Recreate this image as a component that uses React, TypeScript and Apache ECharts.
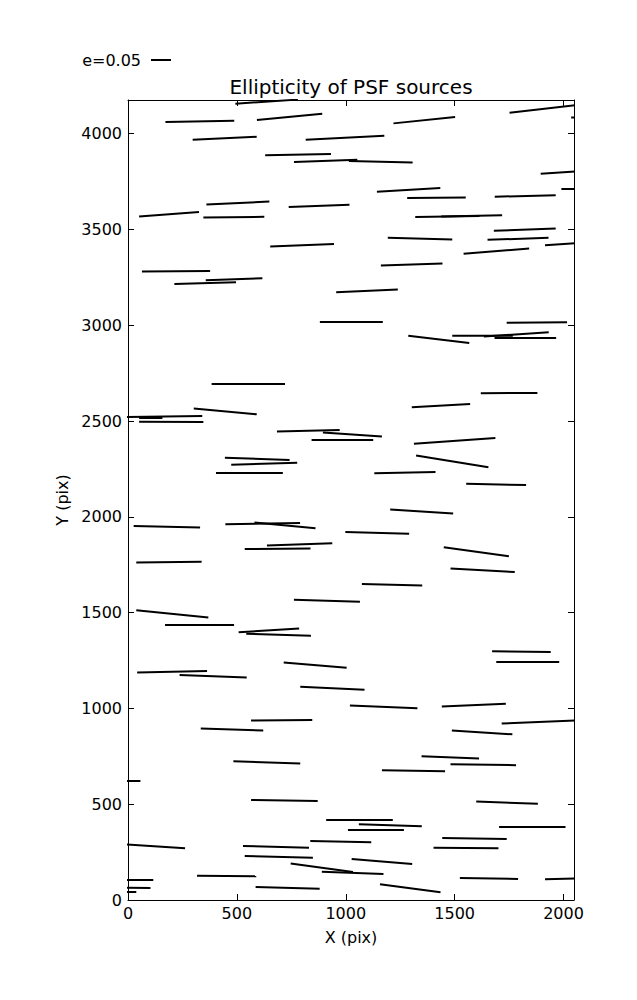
import React, { useEffect, useRef } from "react";
import * as echarts from "echarts";

// Whisker segments [x1, y1, x2, y2] in pixel (data) units
const whiskers: number[][] = [
  [493, 4157, 780, 4178], [172, 4061, 488, 4068], [592, 4071, 892, 4104], [1219, 4054, 1502, 4087],
  [1752, 4110, 2060, 4150], [2035, 4085, 2300, 4080], [297, 3969, 591, 3984], [816, 3969, 1177, 3989],
  [630, 3887, 932, 3894], [762, 3852, 1053, 3864], [1014, 3857, 1307, 3850], [1895, 3791, 2100, 3806],
  [1143, 3697, 1434, 3716], [1282, 3664, 1551, 3667], [1684, 3671, 1964, 3679], [1990, 3714, 2200, 3714],
  [51, 3568, 326, 3591], [360, 3631, 649, 3646], [346, 3563, 626, 3566], [738, 3617, 1017, 3629],
  [1319, 3565, 1614, 3570], [1438, 3568, 1718, 3575], [1680, 3493, 1964, 3505], [1193, 3457, 1489, 3448],
  [1651, 3446, 1931, 3457], [1915, 3418, 2150, 3435], [653, 3411, 946, 3424], [1541, 3373, 1842, 3401],
  [1161, 3312, 1444, 3323], [64, 3281, 377, 3284], [357, 3235, 617, 3246], [213, 3215, 496, 3225],
  [956, 3173, 1239, 3187],
  [881, 3018, 1170, 3018], [1739, 3013, 2016, 3016], [1287, 2946, 1567, 2908], [1489, 2945, 1767, 2946],
  [1634, 2941, 1932, 2964], [1683, 2934, 1966, 2934], [384, 2697, 721, 2697], [1620, 2645, 1880, 2647],
  [302, 2565, 591, 2535], [1303, 2572, 1571, 2589], [-20, 2521, 341, 2527], [51, 2515, 158, 2515],
  [51, 2497, 346, 2495], [684, 2445, 972, 2454], [895, 2440, 1166, 2420], [843, 2400, 1126, 2400],
  [1313, 2382, 1687, 2412], [445, 2309, 742, 2297], [474, 2272, 777, 2283], [1323, 2320, 1655, 2259],
  [404, 2229, 711, 2229], [1131, 2227, 1412, 2234], [1553, 2173, 1828, 2166],
  [1204, 2039, 1493, 2018], [26, 1952, 331, 1945], [447, 1961, 790, 1968], [581, 1971, 861, 1940],
  [998, 1921, 1291, 1912], [638, 1851, 938, 1862], [536, 1832, 838, 1835], [1450, 1841, 1749, 1794],
  [38, 1762, 338, 1766], [1481, 1731, 1776, 1712], [1074, 1649, 1351, 1642],
  [762, 1567, 1065, 1557], [38, 1512, 369, 1475], [170, 1438, 487, 1437], [508, 1398, 786, 1417],
  [543, 1390, 840, 1379], [1672, 1299, 1941, 1294], [1691, 1242, 1980, 1242], [715, 1240, 1004, 1212],
  [42, 1188, 363, 1195], [237, 1175, 545, 1162], [791, 1113, 1086, 1097],
  [1019, 1015, 1329, 1001], [1441, 1010, 1735, 1024], [565, 937, 846, 940], [1716, 921, 2060, 938],
  [334, 895, 621, 885], [1487, 885, 1765, 865], [1348, 751, 1612, 738], [484, 724, 791, 712],
  [1481, 709, 1782, 704], [1166, 677, 1456, 672], [-200, 625, 57, 625],
  [565, 522, 871, 517], [1599, 514, 1882, 502], [910, 421, 1216, 421], [1060, 395, 1349, 385],
  [1010, 369, 1267, 369], [1704, 380, 2009, 380], [1443, 324, 1739, 319], [837, 308, 1117, 301],
  [-10, 290, 262, 270], [528, 282, 831, 273], [1403, 273, 1701, 270], [536, 230, 849, 221],
  [1027, 214, 1305, 188], [747, 190, 1033, 146], [890, 148, 1173, 136], [-80, 105, 116, 104],
  [317, 127, 589, 124], [1524, 115, 1791, 110], [1915, 108, 2100, 114], [-100, 64, 103, 63],
  [-100, 42, 38, 42], [586, 68, 880, 59], [1157, 82, 1435, 40],
];

const xTicks = [0, 500, 1000, 1500, 2000];
const yTicks = [0, 500, 1000, 1500, 2000, 2500, 3000, 3500, 4000];
const xMax = 2048;
const yMax = 4176;
const titleText = "Ellipticity of PSF sources";
const keyLabel = "e=0.05";

const FONT = "DejaVu Sans";

export default function App() {
  const ref = useRef<HTMLDivElement>(null);
  useEffect(() => {
    if (!ref.current) return;
    const chart = echarts.init(ref.current, undefined, { renderer: "svg" });
    const axisCommon = {
      type: "value" as const,
      axisLine: { show: true, onZero: false, lineStyle: { color: "#000", width: 1 } },
      axisTick: { show: true, inside: true, length: 6, lineStyle: { color: "#000", width: 1 } },
      splitLine: { show: false },
    };
    chart.setOption({
      animation: false,
      backgroundColor: "#fff",
      grid: { left: 128, right: 63, top: 100, bottom: 100, containLabel: false },
      graphic: [
        {
          type: "text",
          x: 351,
          y: 87,
          style: {
            text: titleText,
            font: `20px '${FONT}'`,
            fill: "#000",
            align: "center",
            verticalAlign: "middle",
          },
        },
        {
          type: "text",
          x: 141,
          y: 60,
          style: {
            text: keyLabel,
            font: `16px '${FONT}'`,
            fill: "#000",
            align: "right",
            verticalAlign: "middle",
          },
        },
        {
          type: "line",
          shape: { x1: 151, y1: 60, x2: 171, y2: 60 },
          style: { stroke: "#000", lineWidth: 2 },
        },
      ],
      xAxis: [
        {
          ...axisCommon,
          position: "bottom",
          min: 0,
          max: xMax,
          interval: 500,
          name: "X (pix)",
          nameLocation: "middle",
          nameGap: 29,
          nameTextStyle: { color: "#000", fontFamily: FONT, fontSize: 16 },
          axisLabel: {
            color: "#000",
            fontFamily: FONT,
            fontSize: 16,
            margin: 5,
            showMaxLabel: false,
            formatter: (v: number) => (xTicks.includes(v) ? String(v) : ""),
          },
        },
        {
          ...axisCommon,
          position: "top",
          min: 0,
          max: xMax,
          interval: 500,
          axisLabel: { show: false },
        },
      ],
      yAxis: [
        {
          ...axisCommon,
          position: "left",
          min: 0,
          max: yMax,
          interval: 500,
          name: "Y (pix)",
          nameLocation: "middle",
          nameGap: 56,
          nameTextStyle: { color: "#000", fontFamily: FONT, fontSize: 16 },
          axisLabel: {
            color: "#000",
            fontFamily: FONT,
            fontSize: 16,
            margin: 6,
            showMaxLabel: false,
            formatter: (v: number) => (yTicks.includes(v) ? String(v) : ""),
          },
        },
        {
          ...axisCommon,
          position: "right",
          min: 0,
          max: yMax,
          interval: 500,
          axisLabel: { show: false },
        },
      ],
      series: [
        {
          type: "lines",
          coordinateSystem: "cartesian2d",
          clip: true,
          silent: true,
          lineStyle: { color: "#000", width: 2, opacity: 1 },
          data: whiskers.map((w) => ({ coords: [[w[0], w[1]], [w[2], w[3]]] })),
        },
      ],
    });
    return () => chart.dispose();
  }, []);
  return (
    <div
      ref={ref}
      style={{ position: "absolute", left: 0, top: 0, width: 637, height: 1000 }}
    />
  );
}
